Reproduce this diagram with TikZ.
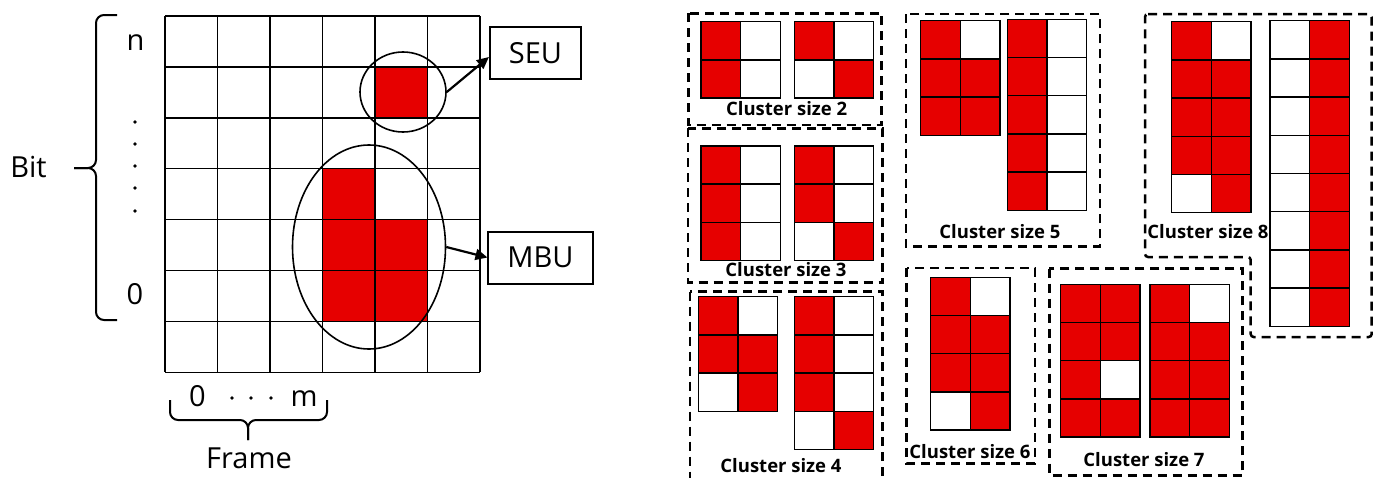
\documentclass[tikz,border=0pt]{standalone}
\usepackage{fontspec}
\setmainfont{Open Sans}
\usepackage{tikz}
\usetikzlibrary{shapes.geometric,arrows.meta}
\definecolor{bitred}{RGB}{230,0,0}

% one 2-column bit pattern, rows given as left/right (1 = upset)
\newcommand{\bitmap}[3]{%
  \foreach \lft/\rgt [count=\rownum from 0] in {#3} {
    \draw[cell\lft] ({#1},{#2+\rownum*38.2}) rectangle ++(39.7,38.2);
    \draw[cell\rgt] ({#1+39.7},{#2+\rownum*38.2}) rectangle ++(39.7,38.2);
  }}

\begin{document}
\begin{tikzpicture}[x=1pt, y=-1pt,
    cell0/.style={draw=black, fill=white, line width=1.5pt},
    cell1/.style={draw=black, fill=bitred, line width=1.5pt},
    cluster/.style={line width=2.5pt, dash pattern=on 9pt off 6pt},
    clabel/.style={font=\bfseries\fontsize{18.5}{20}\selectfont, inner sep=0pt},
    axis/.style={font=\fontsize{29}{32}\selectfont, inner sep=0pt},
    tag/.style={draw, line width=2pt, inner xsep=19pt, minimum height=52pt, font=\fontsize{29}{32}\selectfont},
    ring/.style={ellipse, draw, line width=1.6pt, inner sep=0pt},
    bracket/.style={line width=2pt, rounded corners=8pt},
    pointer/.style={line width=2.2pt, -{Triangle[length=12pt,width=11pt]}}]
  \useasboundingbox (0,0) rectangle (1381,477);
  \clip (0,0) rectangle (1381,477);
  \fill[white] (0,0) rectangle (1381,477);

  % memory grid
  \begin{scope}[shift={(165,16)}, x=52.5pt, y=-50.9pt]
    \fill[bitred] (4,1) rectangle (5,2);
    \fill[bitred] (3,3) rectangle (4,6);
    \fill[bitred] (4,4) rectangle (5,6);
    \foreach \i in {0,...,6} \draw[line width=1.4pt] (\i,0) -- (\i,7);
    \foreach \j in {0,...,7} \draw[line width=1.4pt] (0,\j) -- (6,\j);
  \end{scope}

  \node[ring, minimum width=86pt, minimum height=80pt] (seuring) at (403,92) {};
  \node[ring, minimum width=153pt, minimum height=204pt] (mburing) at (369,247) {};
  \node[tag] (seu) at (535.5,53) {SEU};
  \node[tag] (mbu) at (540.5,257.5) {MBU};
  \draw[pointer] (seuring.east) -- ([yshift=-4pt]seu.west);
  \draw[pointer] (mburing.east) -- (mbu.west);

  % bit axis
  \node[axis] (bit) at (28.5,167) {Bit};
  \node[axis] (topbit) at (135.5,42.5) {n};
  \node[axis] (lowbit) at (135,294.5) {0};
  \foreach \yy in {122,144,166,188,211} \fill (135,\yy) circle (1.9pt);
  \draw[bracket] (117,15) -- (96,15) -- (96,168) -- (74,168);
  \draw[bracket] (117,320) -- (96,320) -- (96,168) -- (74,168);

  % frame axis
  \node[axis] (firstframe) at (197.5,396) {0};
  \node[axis] (lastframe) at (304,398.5) {m};
  \foreach \xx in {232,251,271} \fill (\xx,398) circle (1.9pt);
  \draw[bracket] (170,400) -- (170,420) -- (248,420) -- (248,440);
  \draw[bracket] (327,400) -- (327,420) -- (248,420) -- (248,440);
  \node[axis] (frame) at (249,458) {Frame};

  % cluster size 2
  \draw[cluster] (688.3,13.3) rectangle (881.7,125);
  \bitmap{701}{21.7}{1/0,1/0}
  \bitmap{794.3}{21.7}{1/0,0/1}
  \node[clabel] (size2) at (786.7,108.5) {Cluster size 2};

  % cluster size 3
  \draw[cluster] (688,128.3) rectangle (882.7,282.7);
  \bitmap{701}{146}{1/0,1/0,1/0}
  \bitmap{794.3}{146}{1/0,1/0,0/1}
  \node[clabel] (size3) at (786,269.5) {Cluster size 3};

  % cluster size 4
  \draw[cluster] (690,291.7) rectangle (882.7,490);
  \bitmap{698.3}{296.7}{1/0,1/1,0/1}
  \bitmap{794.3}{296.7}{1/0,1/0,1/0,0/1}
  \node[clabel] (size4) at (781,466) {Cluster size 4};

  % cluster size 5
  \draw[cluster] (906,14) rectangle (1100,246.7);
  \bitmap{920.7}{20.7}{1/0,1/1,1/1}
  \bitmap{1007.3}{19.3}{1/0,1/0,1/0,1/0,1/0}
  \node[clabel] (size5) at (1000,232) {Cluster size 5};

  % cluster size 6
  \draw[cluster] (906.7,268) rectangle (1035,463.3);
  \bitmap{930.7}{277.3}{1/0,1/1,1/1,0/1}
  \node[clabel] (size6) at (970,452) {Cluster size 6};

  % cluster size 7
  \draw[cluster] (1049.3,268.7) rectangle (1242.7,475.3);
  \bitmap{1060.7}{284.3}{1/1,1/1,1/0,1/1}
  \bitmap{1150}{284.3}{1/0,1/1,1/1,1/1}
  \node[clabel] (size7) at (1144,460) {Cluster size 7};

  % cluster size 8
  \draw[cluster, rounded corners=3pt] (1145,14) -- (1371.7,14) -- (1371.7,337) -- (1250.7,337) -- (1250.7,257) -- (1145,257) -- cycle;
  \bitmap{1171.7}{21.7}{1/0,1/1,1/1,1/1,0/1}
  \bitmap{1270}{20.7}{0/1,0/1,0/1,0/1,0/1,0/1,0/1,0/1}
  \node[clabel] (size8) at (1208,232) {Cluster size 8};
\end{tikzpicture}
\end{document}
